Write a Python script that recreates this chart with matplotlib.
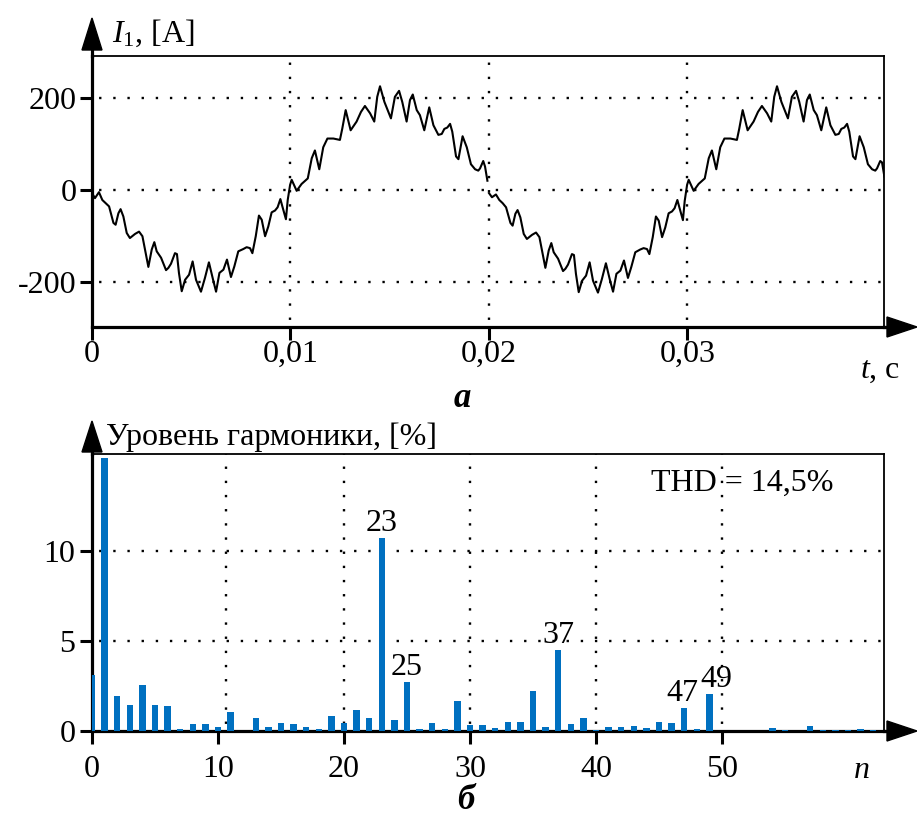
import matplotlib

matplotlib.use("Agg")

import matplotlib.pyplot as plt
from matplotlib.lines import Line2D
from matplotlib.patches import Polygon

plt.rcParams["font.family"] = ["Liberation Serif", "DejaVu Serif"]
plt.rcParams["mathtext.fontset"] = "custom"
plt.rcParams["mathtext.rm"] = "Liberation Serif"
plt.rcParams["mathtext.it"] = "Liberation Serif:italic"
plt.rcParams["axes.unicode_minus"] = False

W, H = 917, 821
FS = 23

# phase current, first period (time in ms, current in A)
time_ms_1 = [0.0, 0.15, 0.35, 0.52, 0.69, 0.86, 1.08, 1.19, 1.33, 1.44, 1.58, 1.75, 1.91, 2.17, 2.37,
             2.54, 2.67, 2.84, 3.01, 3.14, 3.26, 3.48, 3.73, 3.85, 3.98, 4.18, 4.28, 4.38, 4.52, 4.69,
             4.89, 5.07, 5.24, 5.49, 5.69, 5.89, 6.10, 6.25, 6.42, 6.62, 6.80, 7.00, 7.17, 7.37, 7.62,
             7.79, 7.96, 8.08, 8.25, 8.41, 8.55, 8.72, 8.88, 9.05, 9.22, 9.35, 9.49, 9.59, 9.77, 9.86,
             9.98, 10.06, 10.31, 10.56, 10.87, 11.07, 11.23, 11.45, 11.65, 11.86, 12.16, 12.49, 12.61,
             12.78, 13.03, 13.33, 13.55, 13.75, 14.01, 14.22, 14.37, 14.51, 14.73, 15.06, 15.26, 15.47,
             15.63, 15.85, 16.02, 16.16, 16.36, 16.52, 16.74, 16.99, 17.20, 17.45, 17.62, 17.75, 17.90,
             18.04, 18.15, 18.34, 18.46, 18.67, 18.88, 19.09, 19.30, 19.46, 19.55, 19.71, 19.80, 19.92]
current_1 = [-7, -18, -5, -22, -29, -36, -72, -76, -51, -42, -58, -94, -105, -96, -91,
             -101, -130, -168, -130, -114, -134, -148, -175, -170, -161, -138, -140, -181, -221, -196,
             -185, -156, -196, -222, -192, -158, -196, -222, -181, -174, -152, -190, -167, -134, -129,
             -125, -127, -138, -101, -56, -65, -101, -80, -49, -45, -38, -20, -36, -64, -22,
             11, 22, -2, 13, 25, 69, 86, 45, 93, 112, 112, 109, 134,
             174, 130, 149, 170, 183, 167, 149, 203, 226, 192, 156, 203, 216,
             192, 149, 196, 208, 174, 163, 130, 180, 141, 120, 122, 133, 136,
             144, 127, 73, 67, 117, 93, 56, 45, 42, 47, 63, 51, 20]

# second period
time_ms_2 = [20.0, 20.15, 20.35, 20.52, 20.69, 20.86, 21.08, 21.19, 21.33, 21.44, 21.58, 21.75, 21.91, 22.17, 22.37,
             22.54, 22.67, 22.84, 23.01, 23.14, 23.26, 23.48, 23.73, 23.85, 23.98, 24.18, 24.28, 24.38, 24.52, 24.69,
             24.89, 25.07, 25.24, 25.49, 25.69, 25.89, 26.10, 26.25, 26.42, 26.62, 26.80, 27.00, 27.17, 27.37, 27.62,
             27.79, 27.96, 28.08, 28.25, 28.41, 28.55, 28.72, 28.88, 29.05, 29.22, 29.35, 29.49, 29.59, 29.77, 29.86,
             29.98, 30.06, 30.31, 30.56, 30.87, 31.07, 31.23, 31.45, 31.65, 31.86, 32.16, 32.49, 32.61,
             32.78, 33.03, 33.33, 33.55, 33.75, 34.01, 34.22, 34.37, 34.51, 34.73, 35.06, 35.26, 35.47,
             35.63, 35.85, 36.02, 36.16, 36.36, 36.52, 36.74, 36.99, 37.20, 37.45, 37.62, 37.75, 37.90,
             38.04, 38.15, 38.34, 38.46, 38.67, 38.88, 39.09, 39.30, 39.46, 39.55, 39.71, 39.80, 39.92]
current_2 = [-7, -16, -10, -22, -29, -38, -72, -78, -52, -44, -60, -96, -107, -98, -93,
             -103, -132, -170, -132, -116, -136, -150, -177, -172, -163, -140, -142, -183, -223, -198,
             -187, -158, -198, -224, -194, -160, -198, -222, -183, -176, -154, -192, -168, -136, -130,
             -127, -129, -140, -103, -58, -67, -103, -82, -51, -47, -40, -22, -38, -66, -24,
             11, 22, -2, 13, 25, 69, 86, 45, 93, 112, 112, 109, 134,
             174, 130, 149, 170, 183, 167, 149, 203, 226, 192, 156, 203, 216,
             192, 149, 196, 208, 174, 163, 130, 180, 141, 120, 122, 133, 136,
             144, 127, 73, 67, 117, 93, 56, 45, 42, 47, 63, 60, 29]

t_ticks = [0.0, 0.01, 0.02, 0.03]
t_tick_labels = ["0", "0,01", "0,02", "0,03"]
i_ticks = [-200, 0, 200]
i_tick_labels = ["-200", "0", "200"]

# harmonic spectrum, %
harmonic_n = list(range(0, 50)) + [54, 55, 57, 58, 59, 60, 61, 62]
harmonic_level = [3.1, 15.15, 1.96, 1.46, 2.56, 1.46, 1.41, 0.11, 0.39, 0.39,
                  0.24, 1.04, 0.0, 0.71, 0.24, 0.43, 0.39, 0.24, 0.09, 0.83,
                  0.43, 1.15, 0.74, 10.7, 0.59, 2.71, 0.09, 0.44, 0.09, 1.65,
                  0.35, 0.35, 0.18, 0.48, 0.48, 2.22, 0.24, 4.5, 0.39, 0.71,
                  0.03, 0.24, 0.24, 0.29, 0.18, 0.5, 0.44, 1.3, 0.09, 2.04,
                  0.15, 0.08, 0.29, 0.08, 0.08, 0.05, 0.1, 0.05]
labelled_n = [23, 25, 37, 47, 49]
n_ticks = [0, 10, 20, 30, 40, 50]
n_grid = [10.6, 20, 30, 40, 50]
level_ticks = [0, 5, 10]
level_grid = [5, 10]
thd_text = "THD = 14,5%"


def fx(x):
    return x / W


def fy(y):
    return 1 - y / H


def arrow_up(fig, x, y_tip, y_base, half=10):
    fig.add_artist(Polygon([(fx(x), fy(y_tip)), (fx(x - half), fy(y_base)), (fx(x + half), fy(y_base))],
                           closed=True, transform=fig.transFigure, color="black", clip_on=False))


def arrow_right(fig, x_tip, x_base, y, half=10):
    fig.add_artist(Polygon([(fx(x_tip), fy(y)), (fx(x_base), fy(y - half)), (fx(x_base), fy(y + half))],
                           closed=True, transform=fig.transFigure, color="black", clip_on=False))


def style_axis(ax):
    for side in ("top", "right"):
        ax.spines[side].set_linewidth(1.3)
    for side in ("left", "bottom"):
        ax.spines[side].set_linewidth(2.3)
    ax.tick_params(axis="both", direction="out", length=9, width=2.2, labelsize=FS, colors="black")
    ax.set_axisbelow(True)


grid_kw = dict(color="black", linewidth=1.7, linestyle=(3, (1, 5)), zorder=0.5)

fig = plt.figure(figsize=(W / 100, H / 100), dpi=100)

# (a) current waveform
ax1 = fig.add_axes([fx(92), fy(327), fx(884) - fx(92), fy(56) - fy(327)])
style_axis(ax1)
ax1.plot([t / 1000 for t in time_ms_1], current_1, color="black", linewidth=1.5, zorder=3)
ax1.plot([t / 1000 for t in time_ms_2], current_2, color="black", linewidth=1.5, zorder=3)
for t in t_ticks[1:]:
    ax1.axvline(t, **grid_kw)
for v in i_ticks:
    ax1.axhline(v, **grid_kw)
ax1.set_xlim(0, 0.0399)
ax1.set_ylim(-299, 292)
ax1.set_xticks(t_ticks)
ax1.set_xticklabels(t_tick_labels)
ax1.set_yticks(i_ticks)
ax1.set_yticklabels(i_tick_labels)
ax1.tick_params(axis="x", pad=0)
ax1.tick_params(axis="y", pad=2)

# (б) harmonic spectrum
ax2 = fig.add_axes([fx(92), fy(731), fx(884) - fx(92), fy(454) - fy(731)])
style_axis(ax2)
ax2.bar(harmonic_n, harmonic_level, width=0.5, color="#0070C0", zorder=3)
for n in n_grid:
    ax2.axvline(n, **grid_kw)
for v in level_grid:
    ax2.axhline(v, **grid_kw)
label_shift = {23: 0, 25: 0, 37: 0, 47: -1, 49: 5}
for n in labelled_n:
    ax2.annotate(str(n), (n, harmonic_level[harmonic_n.index(n)]), xytext=(label_shift[n], 0),
                 textcoords="offset points", ha="center", va="bottom", fontsize=FS, zorder=4)
ax2.set_xlim(0, 62.86)
ax2.set_ylim(0, 15.39)
ax2.set_xticks(n_ticks)
ax2.set_yticks(level_ticks)
ax2.tick_params(axis="x", pad=8)
ax2.tick_params(axis="y", pad=3)

# axis arrows
for y_frame, y_tip, y_base in ((56, 18, 50), (454, 421, 452)):
    fig.add_artist(Line2D([fx(92), fx(92)], [fy(y_frame), fy(y_base)], transform=fig.transFigure,
                          color="black", linewidth=2.3))
    arrow_up(fig, 92, y_tip, y_base)
for y in (327, 731):
    fig.add_artist(Line2D([fx(884), fx(889)], [fy(y), fy(y)], transform=fig.transFigure,
                          color="black", linewidth=2.3))
    arrow_right(fig, 917, 887, y)

fig.text(fx(112), fy(33), "$I_1$, [A]", fontsize=FS, ha="left", va="center")
fig.text(fx(860), fy(370), "$t$, c", fontsize=FS, ha="left", va="center")
fig.text(fx(462), fy(398), "a", fontsize=FS + 2, ha="center", va="center", fontweight="bold", fontstyle="italic")
fig.text(fx(106), fy(437), "Уровень гармоники, [%]", fontsize=FS, ha="left", va="center")
fig.text(fx(862), fy(770), "n", fontsize=FS, ha="center", va="center", fontstyle="italic")
fig.text(fx(466), fy(800), "б", fontsize=FS + 2, ha="center", va="center", fontweight="bold", fontstyle="italic")
fig.text(fx(742), fy(483), thd_text, fontsize=FS, ha="center", va="center")

fig.savefig("out.png", dpi=100)
plt.close(fig)
